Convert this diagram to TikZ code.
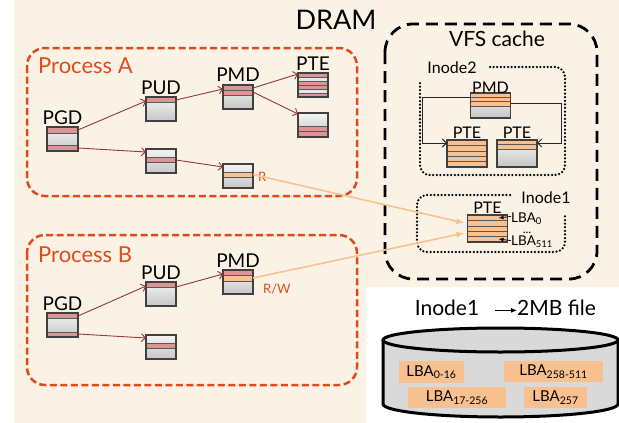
\documentclass[tikz,border=0pt]{standalone}
\usepackage{fontspec}
\setmainfont{Lato}
\usetikzlibrary{arrows.meta,calc}
\definecolor{cream}{HTML}{FBF2E6}
\definecolor{proc}{HTML}{E04A1C}
\definecolor{pinkc}{HTML}{D99694}
\definecolor{orangec}{HTML}{FAC090}
\definecolor{lightg}{HTML}{E6E6E6}
\definecolor{darkred}{HTML}{953735}
\definecolor{diskgray}{HTML}{D9D9D9}
\definecolor{lbaorange}{HTML}{F9C08F}
\newcommand\regbox[6]{%
  \node[regb, minimum width=#4pt, minimum height=#5pt] (#1) at (#2,#3) {};
  \foreach \sa/\sb/\sc in {#6}{%
    \fill[\sc] ($(#1.north west)+(0,\sa)$) rectangle ($(#1.north east)+(0,\sb)$);
    \draw[sline] ($(#1.north west)+(0,\sa)$) -- ($(#1.north east)+(0,\sa)$);
    \draw[sline] ($(#1.north west)+(0,\sb)$) -- ($(#1.north east)+(0,\sb)$);
  }
  \draw[bord] (#1.north west) rectangle (#1.south east);}
\begin{document}
\begin{tikzpicture}[x=1pt,y=-1pt,
  regb/.style={rectangle, inner sep=0pt, outer sep=0pt, top color=gray!8, bottom color=gray!45},
  bord/.style={draw=black!75, line width=1.1pt},
  sline/.style={draw=black!65, line width=0.6pt},
  lbl/.style={font=\fontsize{19}{19}\selectfont, inner sep=0pt, anchor=base},
  vlbl/.style={font=\fontsize{16}{16}\selectfont, inner sep=0pt, anchor=base},
  parrow/.style={draw=darkred, line width=0.9pt, -{Straight Barb[length=4pt,width=8pt]}},
  oarrow/.style={draw=orangec, line width=1.6pt, -{Latex[length=8pt,width=6pt]}},
  procbox/.style={draw=proc, line width=2.5pt, dash pattern=on 7pt off 3.5pt, rounded corners=18pt},
  vfsbox/.style={draw=black, line width=2.8pt, dash pattern=on 12pt off 7pt, rounded corners=28pt},
  inodebox/.style={draw=black, line width=2.5pt, line cap=round, dash pattern=on 0pt off 3.6pt, rounded corners=10pt},
  iline/.style={draw=black!85, line width=1pt, -{Straight Barb[length=4pt,width=8pt]}},
  lbaarrow/.style={draw=black, line width=0.8pt, -{Latex[length=5pt,width=4pt]}},
  lbabox/.style={fill=lbaorange, inner sep=0pt, font=\fontsize{15}{15}\selectfont},
  plabel/.style={text=proc, font=\fontsize{22}{22}\selectfont, inner sep=0pt, anchor=base west}
]
\useasboundingbox (0,0) rectangle (619,423);
% background
\fill[cream] (14,0) -- (619,0) -- (619,287) -- (366,287) -- (366,423) -- (14,423) -- cycle;
\node[font=\fontsize{27}{27}\selectfont, inner sep=0pt, anchor=base] (dram) at (336,29) {DRAM};

% process boxes
\draw[procbox] (27,48) rectangle (357,196);
\node[plabel] (pA) at (38,73) {Process A};
\draw[procbox] (27,235) rectangle (357,385);
\node[plabel] (pB) at (38,262) {Process B};

% VFS cache
\draw[vfsbox] (385,24) rectangle (597,279);
\node[font=\fontsize{21}{21}\selectfont, inner sep=0pt, anchor=base] (vfs) at (497,46) {VFS cache};
\draw[inodebox] (490,67) -- (565,67) -- (565,175) -- (420,175) -- (420,83);
\node[vlbl] (in2) at (452,73) {Inode2};
\draw[inodebox] (510,195) -- (417,195) -- (417,252) -- (565,252) -- (565,213);
\node[vlbl] (in1) at (546,203) {Inode1};

% Process A boxes
\regbox{pgdA}{62.5}{139}{31}{24}{0/6/pinkc,18/24/pinkc}
\regbox{pudA}{161}{109}{30}{24}{0/5/pinkc}
\regbox{pmdA}{238}{97}{30}{24}{0/5/pinkc,5/10/pinkc}
\regbox{pteA}{313}{85}{30}{24}{0/4/pinkc,4/8/lightg,8/12/pinkc,12/16/pinkc,16/20/lightg,20/24/pinkc}
\regbox{pteAb}{313}{125}{30}{24}{13/18.5/pinkc,18.5/24/pinkc}
\regbox{pudAb}{161}{161}{30}{24}{8/13/pinkc}
\regbox{pmdAb}{238}{176}{30}{24}{8/13/orangec}
\node[lbl] (lpgdA) at ($(pgdA.north)+(0,-3)$) {PGD};
\node[lbl] (lpudA) at ($(pudA.north)+(0,-3)$) {PUD};
\node[lbl] (lpmdA) at ($(pmdA.north)+(0,-4)$) {PMD};
\node[lbl] (lpteA) at ($(pteA.north)+(0,-3)$) {PTE};
\node[text=proc, font=\fontsize{13}{13}\selectfont, inner sep=0pt, anchor=base west] (rA) at (258,181) {R};

\draw[parrow] ($(pgdA.north east)+(0,3)$) -- ($(pudA.north west)+(0,4)$);
\draw[parrow] ($(pgdA.south east)+(0,-3)$) -- ($(pudAb.north west)+(0,3)$);
\draw[parrow] ($(pudA.north east)+(0,3)$) -- ($(pmdA.north west)+(0,4)$);
\draw[parrow] ($(pmdA.north east)+(0,3)$) -- ($(pteA.north west)+(0,1)$);
\draw[parrow] ($(pmdA.north east)+(0,7)$) -- ($(pteAb.north west)+(0,1)$);
\draw[parrow] ($(pudAb.north east)+(0,11)$) -- ($(pmdAb.north west)+(0,3)$);

% Process B boxes
\regbox{pgdB}{62.5}{325}{31}{24}{0/5/pinkc,19/24/pinkc}
\regbox{pudB}{161}{294}{30}{24}{0/5/pinkc}
\regbox{pmdB}{238}{282}{30}{24}{0/5/pinkc,5/11/orangec}
\regbox{pudBb}{161}{347}{30}{24}{8/13/pinkc}
\node[lbl] (lpgdB) at ($(pgdB.north)+(0,-3)$) {PGD};
\node[lbl] (lpudB) at ($(pudB.north)+(0,-3)$) {PUD};
\node[lbl] (lpmdB) at ($(pmdB.north)+(0,-3)$) {PMD};
\node[text=proc, font=\fontsize{13}{13}\selectfont, inner sep=0pt, anchor=base west] (rwB) at (263,293) {R/W};

\draw[parrow] ($(pgdB.north east)+(0,3)$) -- ($(pudB.north west)+(0,4)$);
\draw[parrow] ($(pgdB.south east)+(0,-3)$) -- ($(pudBb.north west)+(0,3)$);
\draw[parrow] ($(pudB.north east)+(0,5)$) -- ($(pmdB.north west)+(0,4)$);

% VFS boxes
\regbox{pmdV}{490.5}{105.5}{40}{25}{0/4.3/orangec,4.3/8.6/orangec,8.6/13/orangec}
\regbox{pteV}{467}{153.5}{40}{27}{0/5.4/orangec,5.4/10.8/orangec,10.8/16.2/orangec,16.2/21.6/orangec,21.6/27/orangec}
\regbox{pteVb}{517}{153.5}{40}{27}{0/4.5/orangec,4.5/9/orangec}
\regbox{pteI}{487.5}{228.5}{40}{27}{0/5.4/orangec,5.4/10.8/orangec,10.8/16.2/orangec,16.2/21.6/orangec,21.6/27/orangec}
\node[vlbl] (lpmdV) at ($(pmdV.north)+(0,0)$) {PMD};
\node[vlbl] (lpteV) at ($(pteV.north)+(0,-2)$) {PTE};
\node[vlbl] (lpteVb) at ($(pteVb.north)+(0,-2)$) {PTE};
\node[vlbl] (lpteI) at ($(pteI.north)+(0,-2)$) {PTE};

\draw[iline] ($(pmdV.north west)+(0,4)$) -- ++(-48,0) |- ($(pteV.north west)+(0,3)$);
\draw[iline] ($(pmdV.north east)+(0,10)$) -- ++(51,0) |- ($(pteVb.north east)+(0,3)$);

\node[font=\fontsize{13.5}{13.5}\selectfont, inner sep=0pt, anchor=base west, text depth=0.5pt] (lba0) at (511,222) {LBA\textsubscript{0}};
\node[font=\fontsize{13.5}{13.5}\selectfont, inner sep=0pt, anchor=base west, text height=9pt] (lba511) at (511,245) {LBA\textsubscript{511}};
\node[font=\fontsize{12}{12}\selectfont, inner sep=0pt, anchor=base, text height=1.5pt, text depth=0pt] (ldots) at (527,233) {...};
\draw[lbaarrow] ($(lba0.west)+(0,-1)$) -- ($(pteI.north east)+(-9,3)$);
\draw[lbaarrow] ($(lba511.west)+(0,-1)$) -- ($(pteI.south east)+(-9,-3)$);

% orange connectors
\draw[oarrow] ($(pmdAb.north east)+(0,10.5)$) -- ($(pteI.north west)+(-3,8)$);
\draw[oarrow] ($(pmdB.north east)+(0,8)$) -- ($(pteI.north west)+(-3,18)$);

% disk
\node[font=\fontsize{21}{21}\selectfont, inner sep=0pt, anchor=base] (dt1) at (447,315) {Inode1};
\node[font=\fontsize{21}{21}\selectfont, inner sep=0pt, anchor=base west] (dt2) at (517,315) {2MB file};
\draw[line width=0.9pt, -{Latex[length=6pt,width=5pt]}] ($(dt1.east)+(16,3)$) -- ($(dt2.west)+(0,3)$);

\fill[diskgray] (383,340) -- (383,404) .. controls (383,411.2) and (435.6,417) .. (500.5,417)
  .. controls (565.4,417) and (618,411.2) .. (618,404) -- (618,340) -- cycle;
\fill[diskgray] (500.5,340) ellipse [x radius=117.5, y radius=12];
\draw[line width=3pt] (383,340) -- (383,404) .. controls (383,411.2) and (435.6,417) .. (500.5,417)
  .. controls (565.4,417) and (618,411.2) .. (618,404) -- (618,340);
\draw[line width=3pt] (500.5,340) ellipse [x radius=117.5, y radius=12];

\node[lbabox, minimum width=65pt, minimum height=22pt] (r1) at (431.5,372) {LBA\textsubscript{0-16}};
\node[lbabox, minimum width=99pt, minimum height=21pt] (r2) at (553.5,371.5) {LBA\textsubscript{258-511}};
\node[lbabox, minimum width=98pt, minimum height=21pt] (r3) at (457,397.5) {LBA\textsubscript{17-256}};
\node[lbabox, minimum width=63pt, minimum height=21pt] (r4) at (555.5,397.5) {LBA\textsubscript{257}};
\end{tikzpicture}
\end{document}
